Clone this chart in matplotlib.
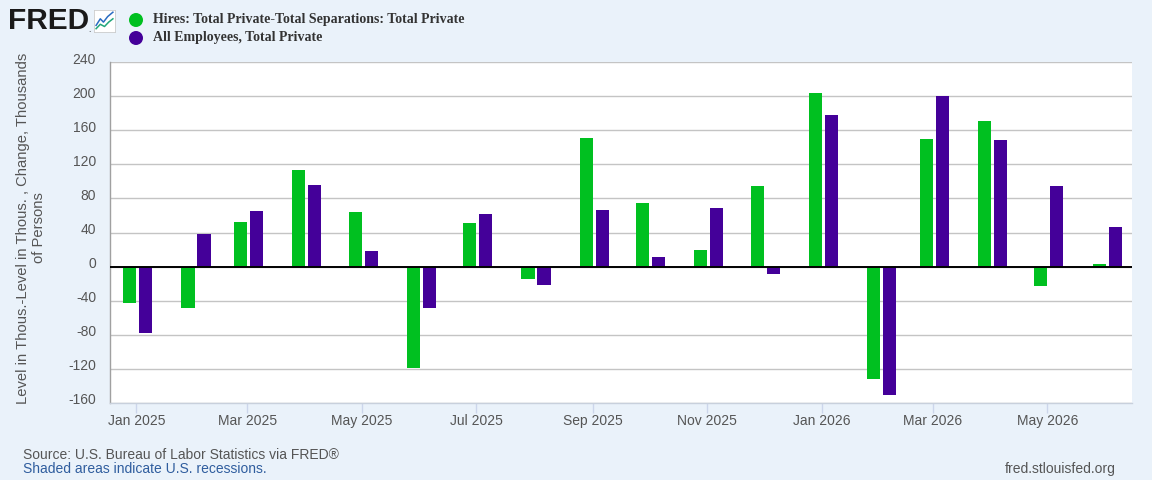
import matplotlib
matplotlib.use("Agg")
import matplotlib.pyplot as plt
import matplotlib.dates as mdates
import matplotlib.transforms as mtransforms
import numpy as np
import datetime as dt

# ---- data ----
months = ["2025-01", "2025-02", "2025-03", "2025-04", "2025-05", "2025-06",
          "2025-07", "2025-08", "2025-09", "2025-10", "2025-11", "2025-12",
          "2026-01", "2026-02", "2026-03", "2026-04", "2026-05", "2026-06"]
hires_minus_seps = [-43, -49, 52, 113, 64, -119, 51, -15, 151, 75, 19, 95,
                    204, -132, 150, 171, -23, 3]
all_employees = [-78, 38, 65, 96, 18, -48, 62, -22, 66, 11, 69, -9,
                 178, -151, 200, 148, 95, 47]
series_names = ["Hires: Total Private-Total Separations: Total Private",
                "All Employees, Total Private"]
yticks = [-160, -120, -80, -40, 0, 40, 80, 120, 160, 200, 240]
xtick_months = ["2025-01", "2025-03", "2025-05", "2025-07", "2025-09", "2025-11",
                "2026-01", "2026-03", "2026-05"]

GREEN = "#00c020"
PURPLE = "#440099"
BG = "#eaf2fa"

def to_num(s):
    y, m = s.split("-")
    return mdates.date2num(dt.datetime(int(y), int(m), 1))

x = np.array([to_num(m) for m in months])

plt.rcParams['font.family'] = ['Liberation Sans', 'DejaVu Sans']

fig = plt.figure(figsize=(11.52, 4.8), dpi=100)
fig.patch.set_facecolor(BG)

W, H = 1152, 480
left, right, top, bottom = 110, 1132, 62, 403
ax = fig.add_axes([left / W, 1 - bottom / H, (right - left) / W, (bottom - top) / H])
ax.set_facecolor("white")

bw = 7.0
ax.bar(x - 3.5, hires_minus_seps, width=bw, color=GREEN, zorder=3, linewidth=0)
ax.bar(x + 5.0, all_employees, width=bw, color=PURPLE, zorder=3, linewidth=0)

ax.set_ylim(-160, 240)
ax.set_xlim(to_num("2024-12") + 17, to_num("2026-06") + 14)
ax.set_yticks(yticks)
ax.set_yticklabels([str(v) for v in yticks])
ax.yaxis.grid(True, color="#c4c4c4", linewidth=1.0, zorder=1)
ax.axhline(0, color="black", linewidth=1.4, zorder=4)

ax.set_xticks([to_num(m) for m in xtick_months])
ax.xaxis.set_major_formatter(mdates.DateFormatter("%b %Y"))

for s in ["top", "right"]:
    ax.spines[s].set_visible(False)
ax.spines["left"].set_color("#a0a0a0")
ax.spines["left"].set_linewidth(1.0)
ax.spines["bottom"].set_color("#c8d0dc")
ax.spines["bottom"].set_linewidth(1.0)

ax.tick_params(axis="y", length=0, pad=10, labelsize=10, labelcolor="#555555")
ax.tick_params(axis="x", length=7, width=1, color="#ccd6eb", pad=1,
               labelsize=10, labelcolor="#555555")
off = mtransforms.ScaledTranslation(0, 4 / 100, fig.dpi_scale_trans)
for lab in ax.get_yticklabels():
    lab.set_transform(lab.get_transform() + off)

# y label
fig.text(31 / W, 1 - 228 / H,
         "Level in Thous.-Level in Thous. , Change, Thousands\nof Persons",
         rotation=90, ha="center", va="center", multialignment="center",
         fontsize=10.6, color="#555555", linespacing=1.15)

# legend
for i, (name, col) in enumerate(zip(series_names, [GREEN, PURPLE])):
    yy = 1 - (20 + 18 * i) / H
    fig.patches.append(matplotlib.patches.Ellipse((136 / W, yy), 14 / W, 14 / H,
                                                  transform=fig.transFigure,
                                                  facecolor=col, edgecolor="none"))
    fig.text(153 / W, yy, name, ha="left", va="center", fontsize=10,
             fontweight="bold", color="#333333",
             family=["Liberation Serif", "DejaVu Serif"])

# FRED logo
fig.text(8 / W, 1 - 21 / H, "FRED", ha="left", va="center", fontsize=21.5,
         fontweight="heavy", color="#1a1a1a")
fig.text(88 / W, 1 - 30 / H, ".", ha="left", va="center", fontsize=6,
         color="#1a1a1a")
iax = fig.add_axes([94 / W, 1 - 32 / H, 21 / W, 22 / H])
iax.set_facecolor("white")
iax.set_xlim(0, 10); iax.set_ylim(0, 10)
iax.set_xticks([]); iax.set_yticks([])
for s in iax.spines.values():
    s.set_color("#cccccc"); s.set_linewidth(0.6)
iax.plot([1, 3, 4.5, 6.5, 9], [3, 6, 4.5, 7, 9], color="#2a6cc2", lw=1.1)
iax.plot([1, 3, 5, 7, 9], [1.5, 3.5, 2.5, 4.5, 6], color="#22a67a", lw=1.1)

# footer
fig.text(23 / W, 1 - 455 / H, "Source: U.S. Bureau of Labor Statistics via FRED\u00ae",
         ha="left", va="center", fontsize=10, color="#555555")
fig.text(23 / W, 1 - 469 / H, "Shaded areas indicate U.S. recessions.",
         ha="left", va="center", fontsize=10, color="#2f5d9e")
fig.text(1116 / W, 1 - 469 / H, "fred.stlouisfed.org",
         ha="right", va="center", fontsize=10, color="#555555")

fig.savefig("out.png", dpi=100, facecolor=BG)
